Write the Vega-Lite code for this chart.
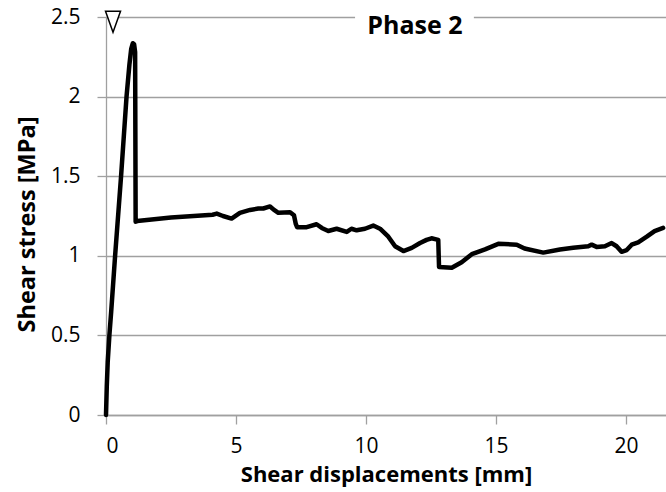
{
  "$schema": "https://vega.github.io/schema/vega-lite/v6.json",
  "width": 560,
  "height": 398,
  "autosize": {"type": "none"},
  "padding": {"left": 106, "top": 17, "right": 0, "bottom": 77},
  "background": "white",
  "config": {
    "view": {"stroke": null},
    "font": "Open Sans",
    "axis": {
      "labelFont": "Open Sans",
      "titleFont": "Open Sans",
      "labelColor": "black",
      "titleColor": "black",
      "labelFontSize": 21,
      "titleFontSize": 22,
      "titleFontWeight": "bold",
      "domainColor": "#a0a0a0",
      "tickColor": "#a0a0a0",
      "gridColor": "#a0a0a0",
      "domainWidth": 1.3,
      "tickWidth": 1.3,
      "gridWidth": 1.3,
      "tickSize": 9
    }
  },
  "datasets": {
    "curve": [
      {"d": 0, "s": 0},
      {"d": 0.03, "s": 0.18},
      {"d": 0.065, "s": 0.33},
      {"d": 0.13, "s": 0.5},
      {"d": 0.2, "s": 0.65},
      {"d": 0.35, "s": 1.0},
      {"d": 0.58, "s": 1.5},
      {"d": 0.79, "s": 2.0},
      {"d": 0.9, "s": 2.2},
      {"d": 0.97, "s": 2.3},
      {"d": 1.03, "s": 2.335},
      {"d": 1.08, "s": 2.33},
      {"d": 1.12, "s": 2.28},
      {"d": 1.14, "s": 1.214},
      {"d": 1.2, "s": 1.218},
      {"d": 2.5, "s": 1.24},
      {"d": 4.1, "s": 1.258},
      {"d": 4.26, "s": 1.265},
      {"d": 4.5, "s": 1.25},
      {"d": 4.83, "s": 1.234},
      {"d": 5.15, "s": 1.27},
      {"d": 5.54, "s": 1.288},
      {"d": 5.86, "s": 1.297},
      {"d": 6.05, "s": 1.297},
      {"d": 6.31, "s": 1.31},
      {"d": 6.45, "s": 1.29},
      {"d": 6.63, "s": 1.27},
      {"d": 7.08, "s": 1.274},
      {"d": 7.23, "s": 1.255},
      {"d": 7.3, "s": 1.2},
      {"d": 7.35, "s": 1.18},
      {"d": 7.72, "s": 1.18},
      {"d": 8.1, "s": 1.198},
      {"d": 8.3, "s": 1.175},
      {"d": 8.55, "s": 1.156},
      {"d": 8.87, "s": 1.17},
      {"d": 9.26, "s": 1.15},
      {"d": 9.44, "s": 1.17},
      {"d": 9.64, "s": 1.16},
      {"d": 9.96, "s": 1.17},
      {"d": 10.28, "s": 1.19},
      {"d": 10.54, "s": 1.17},
      {"d": 10.86, "s": 1.12},
      {"d": 11.12, "s": 1.06},
      {"d": 11.44, "s": 1.03},
      {"d": 11.76, "s": 1.05},
      {"d": 12.08, "s": 1.08},
      {"d": 12.33, "s": 1.1},
      {"d": 12.52, "s": 1.11},
      {"d": 12.78, "s": 1.1},
      {"d": 12.81, "s": 0.93},
      {"d": 13.3, "s": 0.925},
      {"d": 13.68, "s": 0.96},
      {"d": 14.07, "s": 1.01},
      {"d": 14.58, "s": 1.04},
      {"d": 15.09, "s": 1.075},
      {"d": 15.8, "s": 1.07},
      {"d": 16.1, "s": 1.046},
      {"d": 16.82, "s": 1.02},
      {"d": 17.46, "s": 1.04},
      {"d": 17.97, "s": 1.05},
      {"d": 18.55, "s": 1.06},
      {"d": 18.68, "s": 1.07},
      {"d": 18.87, "s": 1.056},
      {"d": 19.19, "s": 1.06},
      {"d": 19.45, "s": 1.08},
      {"d": 19.64, "s": 1.06},
      {"d": 19.83, "s": 1.025},
      {"d": 20.03, "s": 1.036},
      {"d": 20.22, "s": 1.07},
      {"d": 20.47, "s": 1.085},
      {"d": 20.8, "s": 1.12},
      {"d": 21.1, "s": 1.155},
      {"d": 21.43, "s": 1.175}
    ]
  },
  "layer": [
    {
      "data": {"name": "curve"},
      "mark": {"type": "line", "color": "black", "strokeWidth": 4.5, "strokeJoin": "round", "strokeCap": "round"},
      "encoding": {
        "x": {
          "field": "d", "type": "quantitative",
          "scale": {"domain": [0, 21.54], "nice": false, "zero": false},
          "axis": {"values": [0, 5, 10, 15, 20], "format": "~g", "grid": false, "title": "Shear displacements [mm]", "labelPadding": 11, "titlePadding": 8}
        },
        "y": {
          "field": "s", "type": "quantitative",
          "scale": {"domain": [0, 2.5], "nice": false},
          "axis": {"values": [0, 0.5, 1, 1.5, 2, 2.5], "format": "~g", "grid": true, "title": "Shear stress [MPa]", "titleFontSize": 23.5, "titleY": 207, "labelPadding": 17, "titlePadding": 11}
        }
      }
    },
    {
      "data": {"values": [{"x1": 9.58, "x2": 14.15, "y1": 2.37, "y2": 2.53}]},
      "mark": {"type": "rect", "fill": "white"},
      "encoding": {
        "x": {"field": "x1", "type": "quantitative"},
        "x2": {"field": "x2"},
        "y": {"field": "y1", "type": "quantitative"},
        "y2": {"field": "y2"}
      }
    },
    {
      "data": {"values": [{"x": 11.88, "y": 2.443, "label": "Phase 2"}]},
      "mark": {"type": "text", "font": "Open Sans", "fontWeight": "bold", "fontSize": 25, "color": "black", "align": "center", "baseline": "middle"},
      "encoding": {
        "x": {"field": "x", "type": "quantitative"},
        "y": {"field": "y", "type": "quantitative"},
        "text": {"field": "label"}
      }
    },
    {
      "data": {"values": [{"x": 0.27, "y": 2.47}]},
      "mark": {"type": "point", "shape": "M-1,-1.4L1,-1.4L0,1.4Z", "size": 225, "filled": true, "fill": "white", "stroke": "black", "strokeWidth": 1.5, "opacity": 1},
      "encoding": {
        "x": {"field": "x", "type": "quantitative"},
        "y": {"field": "y", "type": "quantitative"}
      }
    }
  ]
}
